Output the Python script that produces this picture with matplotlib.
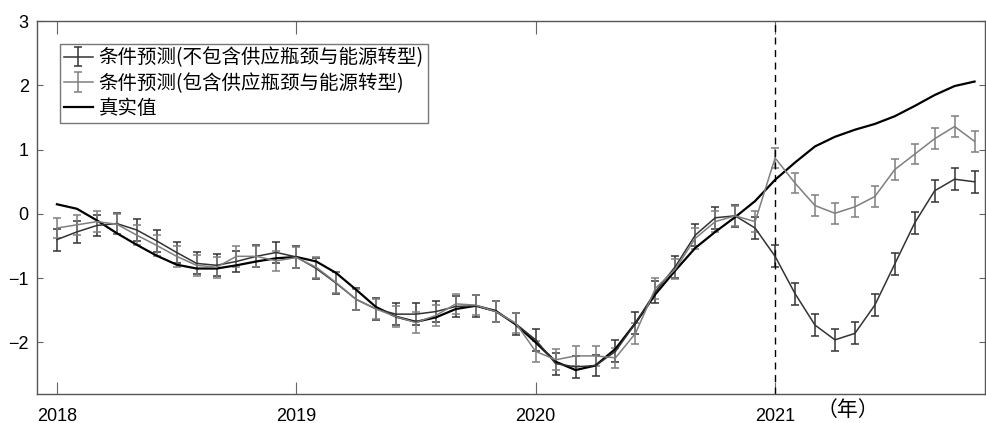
import numpy as np
import matplotlib.pyplot as plt

plt.rcParams['font.family'] = ['Noto Sans CJK SC', 'DejaVu Sans']

# 月度序列: 2018-01 ... 2021-11
months = np.arange(47)

truth = [0.15, 0.08, -0.10, -0.30, -0.48, -0.65, -0.79, -0.85, -0.85, -0.80,
         -0.74, -0.69, -0.67, -0.74, -0.92, -1.18, -1.45, -1.60, -1.68, -1.61,
         -1.48, -1.43, -1.51, -1.72, -2.00, -2.30, -2.43, -2.36, -2.10, -1.70,
         -1.25, -0.88, -0.53, -0.28, -0.05, 0.20, 0.53, 0.80, 1.05, 1.20,
         1.31, 1.40, 1.52, 1.68, 1.85, 1.99, 2.06]

cond_no_supply = [-0.40, -0.28, -0.18, -0.15, -0.25, -0.42, -0.60, -0.77, -0.80, -0.74,
                  -0.66, -0.60, -0.67, -0.85, -1.08, -1.33, -1.48, -1.56, -1.56, -1.52,
                  -1.44, -1.43, -1.52, -1.71, -1.96, -2.33, -2.38, -2.36, -2.14, -1.70,
                  -1.21, -0.82, -0.33, -0.06, -0.03, -0.22, -0.66, -1.24, -1.73, -1.96,
                  -1.86, -1.42, -0.78, -0.14, 0.36, 0.54, 0.50]

cond_supply = [-0.22, -0.17, -0.12, -0.16, -0.33, -0.49, -0.66, -0.80, -0.83, -0.66,
               -0.66, -0.73, -0.68, -0.83, -1.07, -1.33, -1.48, -1.60, -1.69, -1.58,
               -1.40, -1.42, -1.52, -1.70, -2.14, -2.27, -2.21, -2.21, -2.24, -1.86,
               -1.16, -0.86, -0.38, -0.12, -0.03, -0.12, 0.87, 0.48, 0.13, 0.01,
               0.11, 0.27, 0.69, 0.93, 1.17, 1.36, 1.13]

err_no_supply = 0.17
err_supply = 0.16

year_ticks = [0, 12, 24, 36]
year_labels = ['2018', '2019', '2020', '2021']

fig = plt.figure(figsize=(9.86, 4.23), dpi=100)
ax = fig.add_axes([0.0375, 0.069, 0.961, 0.881])

h1 = ax.errorbar(months, cond_no_supply, yerr=err_no_supply, color='#333333', lw=1.1,
                 capsize=3, elinewidth=1.1, capthick=1.1,
                 label='条件预测(不包含供应瓶颈与能源转型)')
h2 = ax.errorbar(months, cond_supply, yerr=err_supply, color='#7f7f7f', lw=1.1,
                 capsize=3, elinewidth=1.1, capthick=1.1,
                 label='条件预测(包含供应瓶颈与能源转型)')
h3, = ax.plot(months, truth, color='black', lw=1.6, label='真实值')

ax.axvline(36, color='black', lw=1, ls=(0, (5, 4)))

ax.set_xlim(-1, 46.5)
ax.set_ylim(-2.8, 3)
ax.set_xticks(year_ticks)
ax.set_xticklabels(year_labels, family='Liberation Sans', fontsize=13)
ax.set_yticks([-2, -1, 0, 1, 2, 3])
ax.set_yticklabels(['\u22122', '\u22121', '0', '1', '2', '3'],
                   family='Liberation Sans', fontsize=13)
ax.tick_params(axis='x', direction='in', length=9, top=True, pad=10,
               color='#666666')
ax.tick_params(axis='y', direction='in', length=4, right=True, pad=6,
               color='#666666')
for s in ax.spines.values():
    s.set_color('#555555')
    s.set_linewidth(1)

ax.text(0.856, -0.044, '（年）', transform=ax.transAxes, fontsize=15,
        ha='center', va='center')

leg = ax.legend(handles=[h1, h2, h3], loc='upper left', bbox_to_anchor=(0.024, 0.94),
                borderaxespad=0, fontsize=14, fancybox=False, edgecolor='#777777',
                handlelength=1.5, handletextpad=0.3, labelspacing=0.22,
                borderpad=0.2, framealpha=1)
leg.get_frame().set_linewidth(1)

fig.savefig('out.png', dpi=100)
